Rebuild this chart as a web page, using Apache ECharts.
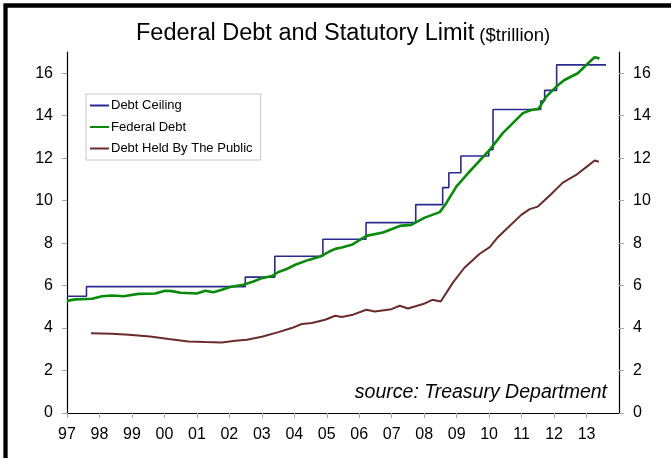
<!DOCTYPE html>
<html>
<head>
<meta charset="utf-8">
<script src="https://cdn.jsdelivr.net/npm/echarts@6/dist/echarts.min.js"></script>
<style>
  html, body { margin: 0; padding: 0; background: #fff; }
  #debtChart { width: 671px; height: 458px; }
</style>
</head>
<body>
<div id="debtChart"></div>
<script>
// debt ceiling: date it took effect (fractional year) and level, $trillion
const ceilingDates = [1997.0, 1997.6, 2002.49, 2003.4, 2004.88, 2006.21, 2007.74, 2008.57, 2008.76, 2009.13, 2009.99, 2010.12, 2011.59, 2011.71, 2012.08, 2013.6];
const ceilingValues = [5.5, 5.95, 6.4, 7.384, 8.184, 8.965, 9.815, 10.615, 11.315, 12.104, 12.394, 14.294, 14.694, 15.194, 16.394, 16.394];

// federal debt (total)
const debtDates = [1997.0, 1997.26, 1997.77, 1998.08, 1998.38, 1998.74, 1999.2, 1999.72, 2000.02, 2000.23, 2000.49, 2001.0, 2001.26, 2001.51, 2001.77, 2002.02, 2002.43, 2002.74, 2003.0, 2003.31, 2003.51, 2003.77, 2004.03, 2004.44, 2004.8, 2005.05, 2005.26, 2005.46, 2005.77, 2006.22, 2006.73, 2007.25, 2007.6, 2008.02, 2008.48, 2008.68, 2008.99, 2009.35, 2009.71, 2010.02, 2010.42, 2010.73, 2011.04, 2011.3, 2011.52, 2011.76, 2012.07, 2012.32, 2012.73, 2012.99, 2013.25, 2013.4];
const debtValues = [5.28, 5.35, 5.38, 5.5, 5.53, 5.5, 5.61, 5.63, 5.76, 5.74, 5.66, 5.63, 5.76, 5.69, 5.8, 5.93, 6.04, 6.19, 6.35, 6.45, 6.64, 6.78, 6.98, 7.21, 7.37, 7.58, 7.73, 7.79, 7.92, 8.34, 8.5, 8.81, 8.86, 9.2, 9.46, 9.88, 10.66, 11.29, 11.89, 12.39, 13.18, 13.65, 14.12, 14.27, 14.32, 14.9, 15.37, 15.68, 16.0, 16.39, 16.75, 16.7];

// debt held by the public
const publicDates = [1997.74, 1998.38, 1998.9, 1999.56, 2000.13, 2000.74, 2001.26, 2001.77, 2002.18, 2002.54, 2003.0, 2003.51, 2003.92, 2004.23, 2004.54, 2004.95, 2005.26, 2005.46, 2005.81, 2006.22, 2006.48, 2006.99, 2007.25, 2007.5, 2007.97, 2008.25, 2008.51, 2008.89, 2009.24, 2009.71, 2010.02, 2010.27, 2010.63, 2010.99, 2011.25, 2011.5, 2011.86, 2012.27, 2012.68, 2012.99, 2013.25, 2013.38];
const publicValues = [3.76, 3.73, 3.68, 3.6, 3.48, 3.37, 3.34, 3.32, 3.4, 3.45, 3.59, 3.81, 4.0, 4.19, 4.24, 4.39, 4.58, 4.52, 4.63, 4.86, 4.78, 4.89, 5.05, 4.92, 5.13, 5.33, 5.25, 6.15, 6.84, 7.5, 7.81, 8.28, 8.81, 9.33, 9.6, 9.72, 10.23, 10.85, 11.21, 11.58, 11.89, 11.83];

const yTicks = [0, 2, 4, 6, 8, 10, 12, 14, 16];
const xTickYears = [1997, 1998, 1999, 2000, 2001, 2002, 2003, 2004, 2005, 2006, 2007, 2008, 2009, 2010, 2011, 2012, 2013];

const FONT = "'Liberation Sans', Arial, sans-serif";

function pairs(xs, ys) {
  return xs.map((x, i) => [x, ys[i]]);
}

function makeYAxis(position) {
  return {
    type: 'value',
    position: position,
    min: 0,
    max: 17,
    interval: 2,
    axisLine: {show: true, lineStyle: {color: '#000', width: 1.2}},
    axisTick: {show: true, length: 5, lineStyle: {color: '#a8a8a8'}, customValues: yTicks},
    axisLabel: {
      customValues: yTicks,
      margin: 14,
      color: '#000',
      fontSize: 16,
      fontFamily: FONT
    },
    splitLine: {show: false}
  };
}

const chart = echarts.init(document.getElementById('debtChart'), null, {renderer: 'canvas'});

const option = {
  animation: false,
  backgroundColor: '#fff',
  title: {
    left: 136,
    top: 22,
    padding: 0,
    text: '{a|Federal Debt and Statutory Limit} {b|($trillion)}',
    textStyle: {
      fontWeight: 'normal',
      rich: {
        a: {fontSize: 23.5, fontFamily: FONT, fontWeight: 'normal', color: '#000', verticalAlign: 'bottom'},
        b: {fontSize: 18.5, fontFamily: FONT, fontWeight: 'normal', color: '#000', verticalAlign: 'bottom', padding: [0, 0, 1, 0]}
      }
    }
  },
  legend: {
    orient: 'vertical',
    left: 86,
    top: 94,
    padding: [5, 8, 5, 3],
    itemGap: 8.5,
    itemWidth: 19,
    itemHeight: 14,
    backgroundColor: '#fff',
    borderColor: '#c8c8c8',
    borderWidth: 1,
    itemStyle: {opacity: 0},
    textStyle: {fontSize: 13, fontFamily: FONT, color: '#000', padding: [0, 0, 0, -3]},
    data: ['Debt Ceiling', 'Federal Debt', 'Debt Held By The Public']
  },
  grid: {
    left: 67,
    right: 52,
    top: 52,
    bottom: 45,
    outerBoundsMode: 'none'
  },
  xAxis: {
    type: 'value',
    min: 1997,
    max: 2014,
    interval: 1,
    axisLine: {show: true, lineStyle: {color: '#000', width: 1.2}},
    axisTick: {show: true, length: 5, lineStyle: {color: '#a8a8a8'}, customValues: xTickYears},
    axisLabel: {
      customValues: xTickYears,
      margin: 14,
      color: '#000',
      fontSize: 16,
      fontFamily: FONT,
      formatter: v => String(v).slice(2)
    },
    splitLine: {show: false}
  },
  yAxis: [makeYAxis('left'), makeYAxis('right')],
  series: [
    {
      name: 'Debt Ceiling',
      type: 'line',
      step: 'end',
      symbol: 'none',
      data: pairs(ceilingDates, ceilingValues),
      color: '#2a2a92',
      lineStyle: {color: '#2a2a92', width: 1.6},
      z: 3
    },
    {
      name: 'Federal Debt',
      type: 'line',
      symbol: 'none',
      data: pairs(debtDates, debtValues),
      color: '#0a8a0a',
      lineStyle: {color: '#0a8a0a', width: 2.6},
      z: 4
    },
    {
      name: 'Debt Held By The Public',
      type: 'line',
      symbol: 'none',
      data: pairs(publicDates, publicValues),
      color: '#6b2b2b',
      lineStyle: {color: '#6b2b2b', width: 2},
      z: 2
    }
  ],
  graphic: [
    {
      type: 'text',
      right: 64,
      top: 383,
      style: {
        text: 'source: Treasury Department',
        fontSize: 19.5,
        fontStyle: 'italic',
        fontFamily: FONT,
        fill: '#000'
      }
    },
    {
      type: 'rect',
      shape: {x: 5.5, y: 5.5, width: 720, height: 520},
      style: {fill: 'none', stroke: '#000', lineWidth: 4.3},
      silent: true
    }
  ]
};

chart.setOption(option);
</script>
</body>
</html>
